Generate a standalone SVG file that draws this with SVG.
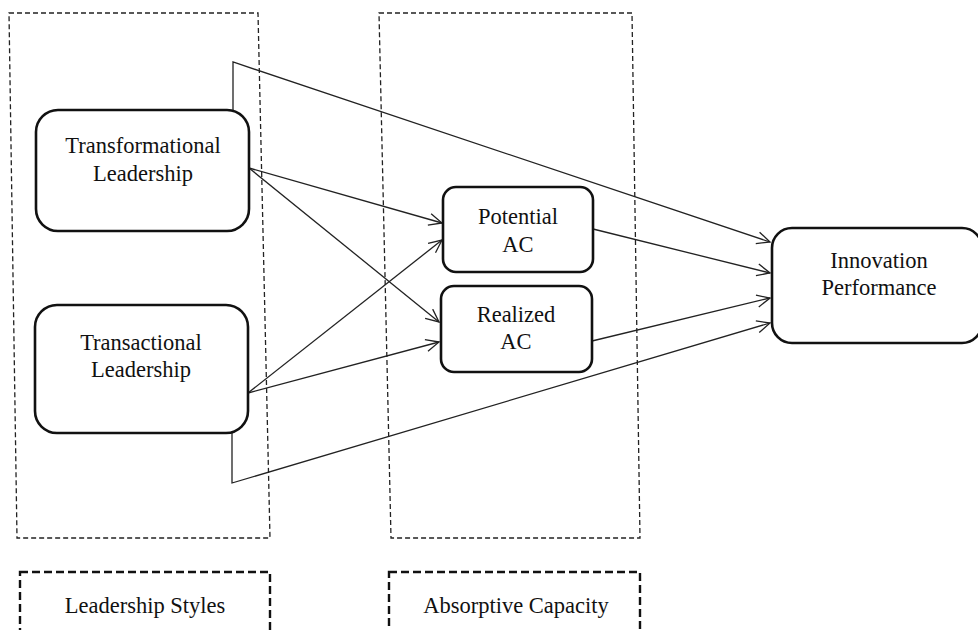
<svg xmlns="http://www.w3.org/2000/svg" width="978" height="630" viewBox="0 0 978 630">
<defs>
<style>
.grp{fill:none;stroke:#222;stroke-width:1.3;stroke-dasharray:5 3}
.leg{fill:#fff;stroke:#111;stroke-width:2.4;stroke-dasharray:8 4}
.node{fill:#fff;stroke:#111;stroke-width:2.6}
.t{font-family:"Liberation Serif","Times New Roman",serif;font-size:22.5px;fill:#111;text-anchor:middle}
.c{fill:none;stroke:#222;stroke-width:1.3}
</style>
<marker id="arr" markerWidth="16" markerHeight="14" refX="14" refY="7" orient="auto" markerUnits="userSpaceOnUse">
<path d="M1,1 L14,7 L1,13" fill="none" stroke="#222" stroke-width="1.3"/>
</marker>
</defs>
<rect width="978" height="630" fill="#fff"/>
<g id="group-leadership-styles">
<path class="grp" d="M9,13 L258,13 L270,538 L17,538 Z"/>
</g>
<g id="group-absorptive-capacity">
<path class="grp" d="M379,13 L632,13 L640,538 L391,538 Z"/>
</g>
<g id="connectors">
<polyline class="c" points="233,110 233,62 770,242" marker-end="url(#arr)"/>
<line class="c" x1="249" y1="168" x2="442" y2="223" marker-end="url(#arr)"/>
<line class="c" x1="249" y1="168" x2="439" y2="322" marker-end="url(#arr)"/>
<line class="c" x1="248" y1="393" x2="442" y2="240" marker-end="url(#arr)"/>
<line class="c" x1="248" y1="393" x2="439" y2="342" marker-end="url(#arr)"/>
<polyline class="c" points="232,433 232,483 770,323" marker-end="url(#arr)"/>
<line class="c" x1="593" y1="229" x2="770" y2="273" marker-end="url(#arr)"/>
<line class="c" x1="592" y1="341" x2="770" y2="298" marker-end="url(#arr)"/>
</g>
<g id="transformational-leadership">
<rect class="node" x="36" y="110" width="213" height="121" rx="22"/>
<text class="t" x="143" y="153">Transformational</text>
<text class="t" x="143" y="181">Leadership</text>
</g>
<g id="transactional-leadership">
<rect class="node" x="35" y="305" width="213" height="128" rx="22"/>
<text class="t" x="141" y="350">Transactional</text>
<text class="t" x="141" y="377">Leadership</text>
</g>
<g id="potential-ac">
<rect class="node" x="443" y="187" width="150" height="85" rx="13"/>
<text class="t" x="518" y="224">Potential</text>
<text class="t" x="518" y="252">AC</text>
</g>
<g id="realized-ac">
<rect class="node" x="441" y="286" width="151" height="86" rx="13"/>
<text class="t" x="516" y="322">Realized</text>
<text class="t" x="516" y="349">AC</text>
</g>
<g id="innovation-performance">
<rect class="node" x="772" y="228" width="210" height="115" rx="20"/>
<text class="t" x="879" y="268">Innovation</text>
<text class="t" x="879" y="295">Performance</text>
</g>
<g id="legend-leadership-styles">
<rect class="leg" x="20" y="572" width="250" height="70"/>
<text class="t" x="145" y="613">Leadership  Styles</text>
</g>
<g id="legend-absorptive-capacity">
<rect class="leg" x="389" y="572" width="251" height="70"/>
<text class="t" x="516" y="613">Absorptive Capacity</text>
</g>
</svg>
